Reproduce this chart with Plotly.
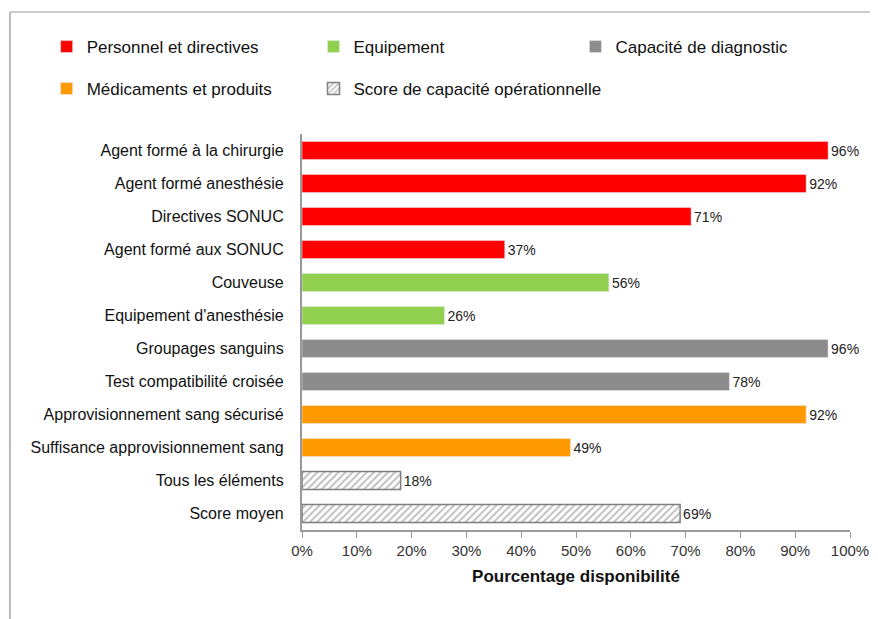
import plotly.graph_objects as go

categories = [
    "Agent formé à la chirurgie", "Agent formé anesthésie", "Directives SONUC",
    "Agent formé aux SONUC", "Couveuse", "Equipement d'anesthésie",
    "Groupages sanguins", "Test compatibilité croisée",
    "Approvisionnement sang sécurisé", "Suffisance approvisionnement sang",
    "Tous les éléments", "Score moyen",
]
values = [96, 92, 71, 37, 56, 26, 96, 78, 92, 49, 18, 69]
groups = ["Personnel et directives"] * 4 + ["Equipement"] * 2 + ["Capacité de diagnostic"] * 2 + \
         ["Médicaments et produits"] * 2 + ["Score de capacité opérationnelle"] * 2
group_names = ["Personnel et directives", "Equipement", "Capacité de diagnostic",
               "Médicaments et produits", "Score de capacité opérationnelle"]
group_colors = {
    "Personnel et directives": "#FF0000",
    "Equipement": "#92D050",
    "Capacité de diagnostic": "#8C8C8C",
    "Médicaments et produits": "#FF9900",
    "Score de capacité opérationnelle": "#FFFFFF",
}
tick_vals = [0, 10, 20, 30, 40, 50, 60, 70, 80, 90, 100]
tick_text = [f"{v}%" for v in tick_vals]

FONT = "Liberation Sans Narrow, Arial Narrow, Liberation Sans, Arial"

# legend placement (paper coords) for each group entry
legend_pos = [(-0.466, 1.265), (0.021, 1.265), (0.499, 1.265), (-0.466, 1.159), (0.021, 1.159)]

fig = go.Figure()
legend_layout = {}
for gi, g in enumerate(group_names):
    ys = [c for c, gg in zip(categories, groups) if gg == g]
    xs = [v for v, gg in zip(values, groups) if gg == g]
    marker = dict(color=group_colors[g])
    if g == "Score de capacité opérationnelle":
        marker = dict(color="white", line=dict(color="#7F7F7F", width=1.5),
                      pattern=dict(shape="/", fgcolor="#7F7F7F", bgcolor="white", size=5, solidity=0.4))
    lname = "legend" if gi == 0 else f"legend{gi + 1}"
    fig.add_trace(go.Bar(
        x=xs, y=ys, orientation="h", name=g, marker=marker,
        text=[f"{v}%" for v in xs], textposition="outside", cliponaxis=False,
        textfont=dict(family=FONT, size=14, color="#222222"),
        legend=lname,
    ))
    lx, ly = legend_pos[gi]
    legend_layout[lname] = dict(x=lx, xanchor="left", y=ly, yanchor="top",
                                font=dict(family=FONT, size=17, color="#111"),
                                itemwidth=30, bgcolor="rgba(0,0,0,0)")

fig.update_layout(
    width=878, height=619,
    margin=dict(l=294, r=36, t=126, b=97, autoexpand=False),
    paper_bgcolor="white", plot_bgcolor="white",
    bargap=0.45,
    font=dict(family=FONT, size=15, color="#111111"),
    showlegend=True,
    xaxis=dict(range=[0, 100], tickvals=tick_vals, ticktext=tick_text, showgrid=False,
               showline=True, linecolor="#999999", linewidth=1.5, ticks="outside",
               tickcolor="#999999", ticklen=6, zeroline=False,
               tickfont=dict(family=FONT, size=15, color="#333"),
               title=dict(text="<b>Pourcentage disponibilité</b>", standoff=12,
                          font=dict(family=FONT, size=17, color="#111"))),
    yaxis=dict(categoryorder="array", categoryarray=categories, autorange="reversed",
               showgrid=False, showline=True, linecolor="#999999", linewidth=1.5,
               ticks="", ticksuffix="   ", tickfont=dict(family=FONT, size=16, color="#111")),
    shapes=[
        dict(type="line", xref="paper", yref="paper", x0=-0.533, x1=1.047, y0=1.308, y1=1.308,
             line=dict(color="#BBBBBB", width=1.5), layer="below"),
        dict(type="line", xref="paper", yref="paper", x0=-0.533, x1=-0.533, y0=1.308, y1=-0.3,
             line=dict(color="#BBBBBB", width=2), layer="below"),
    ],
    **legend_layout,
)

fig.write_html("out.html")
